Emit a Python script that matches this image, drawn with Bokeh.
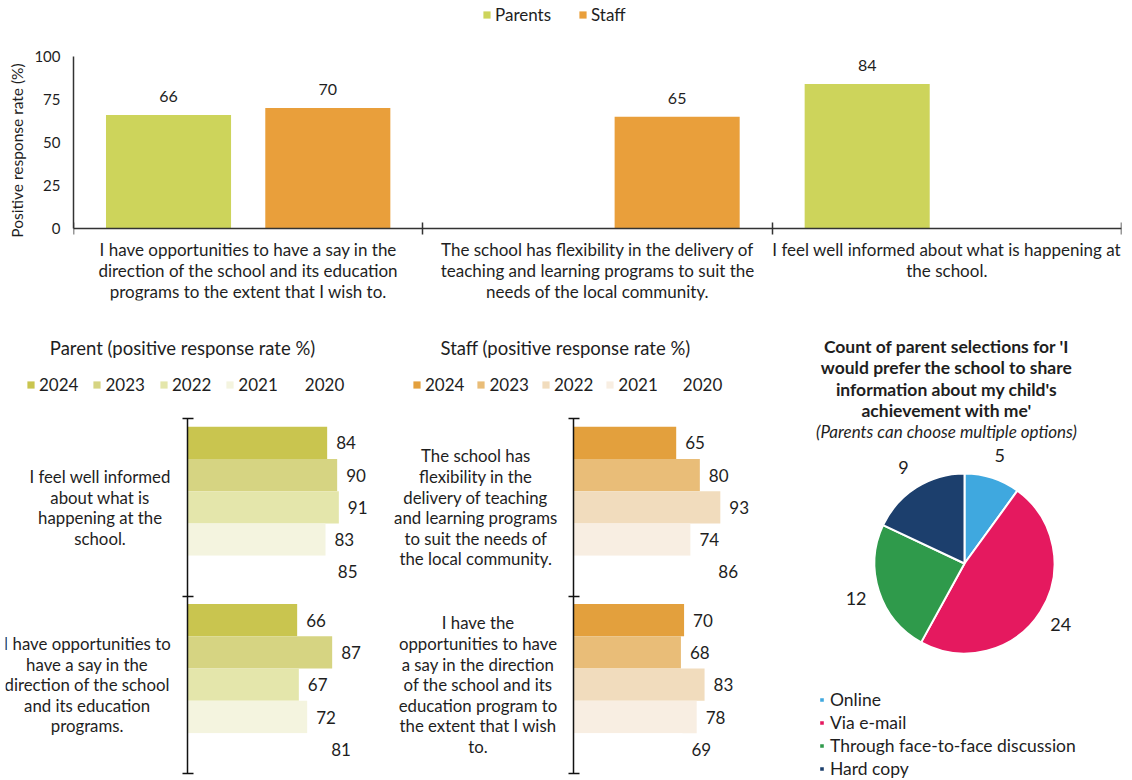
import numpy as np
from bokeh.plotting import figure
from bokeh.models import (ColumnDataSource, Range1d, FixedTicker, Legend, LegendItem, Label)
from bokeh.layouts import column, row
from bokeh.embed import file_html
from bokeh.resources import INLINE
from bokeh.core.properties import value

FONT = "Lato"
TXT = "#1e1e1e"

# ---------------- data ----------------
top_categories = [
    "I have opportunities to have a say in the\ndirection of the school and its education\nprograms to the extent that I wish to.",
    "The school has flexibility in the delivery of\nteaching and learning programs to suit the\nneeds of the local community.",
    "I feel well informed about what is happening at\nthe school.",
]
top_parents = [66, None, 84]
top_staff = [70, 65, None]

years = ["2024", "2023", "2022", "2021", "2020"]

parent_questions = [
    "I feel well informed\nabout what is\nhappening at the\nschool.",
    "I have opportunities to\nhave a say in the\ndirection of the school\nand its education\nprograms.",
]
parent_2024 = [84, 66]
parent_2023 = [90, 87]
parent_2022 = [91, 67]
parent_2021 = [83, 72]
parent_2020 = [85, 81]

staff_questions = [
    "The school has\nflexibility in the\ndelivery of teaching\nand learning programs\nto suit the needs of\nthe local community.",
    "I have the\nopportunities to have\na say in the direction\nof the school and its\neducation program to\nthe extent that I wish\nto.",
]
staff_2024 = [65, 70]
staff_2023 = [80, 68]
staff_2022 = [93, 83]
staff_2021 = [74, 78]
staff_2020 = [86, 69]

pie_title = ["Count of parent selections for 'I",
             "would prefer the school to share",
             "information about my child's",
             "achievement with me'"]
pie_subtitle = "(Parents can choose multiple options)"
pie_labels = ["Online", "Via e-mail", "Through face-to-face discussion", "Hard copy"]
pie_counts = [5, 24, 12, 9]

# ---------------- styles ----------------
C_PAR = "#cdd45b"
C_STAFF = "#e99f3b"
PAR_COLORS = ["#c9c54f", "#d6d482", "#e4e6ab", "#f4f4df", "#ffffff"]
STAFF_COLORS = ["#e3a03d", "#e9bd78", "#f1dcbd", "#f8eee2", "#ffffff"]
PIE_COLORS = ["#3fa8df", "#e5195f", "#2f9a4b", "#1c3f6d"]


def base(fig):
    fig.outline_line_color = None
    fig.grid.visible = False
    fig.background_fill_color = "white"
    fig.border_fill_color = "white"
    fig.frame_align = False
    return fig


# ---------------- top chart ----------------
# frame spans the whole panel height; the axes are bounded/fixed at the data origin
top = base(figure(width=1132, height=310, x_range=Range1d(-0.5, 2.5),
                  y_range=Range1d(-41.86, 132.56), title=None,
                  output_backend="svg", toolbar_location=None,
                  min_border_left=73, min_border_right=11, min_border_top=0, min_border_bottom=10))

idx = np.arange(len(top_categories))
OFF, BW = 0.228, 0.358
px = [float(i) - OFF for i, v in zip(idx, top_parents) if v is not None]
pv = [v for v in top_parents if v is not None]
sx = [float(i) + OFF for i, v in zip(idx, top_staff) if v is not None]
sv = [v for v in top_staff if v is not None]

r_par = top.vbar(x=px, top=pv, width=BW, fill_color=C_PAR, line_color=None)
r_staff = top.vbar(x=sx, top=sv, width=BW, fill_color=C_STAFF, line_color=None)
top.text(x=px + sx, y=pv + sv, text=[str(v) for v in pv + sv], text_align="center",
         text_baseline="bottom", y_offset=-13, text_font=value(FONT), text_font_size="16px",
         text_color=TXT)
# category labels under the axis
top.text(x=idx.astype(float), y=[0.0] * len(idx), y_offset=10, text=top_categories,
         text_align="center", text_baseline="top", text_font=value(FONT),
         text_font_size="17px", text_line_height=1.0, text_color=TXT)

xa = top.xaxis[0]
xa.fixed_location = 0
xa.ticker = FixedTicker(ticks=[], minor_ticks=[-0.5, 0.5, 1.5, 2.5])
xa.major_tick_in = 0
xa.major_tick_out = 0
xa.minor_tick_in = 6
xa.minor_tick_out = 6
xa.minor_tick_line_color = "#333333"
xa.minor_tick_line_width = 1.5
xa.axis_line_color = "#333333"
xa.axis_line_width = 1.5

ya = top.yaxis[0]
ya.ticker = FixedTicker(ticks=[0, 25, 50, 75, 100])
ya.bounds = (0, 100)
ya.major_tick_in = 0
ya.major_tick_out = 0
ya.minor_tick_in = 0
ya.minor_tick_out = 0
ya.axis_line_color = "#333333"
ya.axis_line_width = 1.5
ya.major_label_standoff = 13
ya.major_label_text_font = FONT
ya.major_label_text_font_size = "15px"
ya.major_label_text_color = TXT
ya.axis_label = "Positive response rate (%)"
ya.axis_label_text_font = FONT
ya.axis_label_text_font_size = "15.5px"
ya.axis_label_text_font_style = "normal"
ya.axis_label_text_color = TXT
ya.axis_label_standoff = 5

top_leg = Legend(items=[LegendItem(label="Parents", renderers=[r_par]),
                        LegendItem(label="Staff", renderers=[r_staff])],
                 orientation="horizontal", location=(409, 275), padding=0, margin=0,
                 spacing=27, label_standoff=4, glyph_width=9, glyph_height=9, label_height=20,
                 border_line_color=None, background_fill_alpha=0,
                 label_text_font=FONT, label_text_font_size="17px", label_text_color=TXT)
top.add_layout(top_leg)


# ---------------- year bar charts ----------------
def year_chart(title, questions, series, colors, xr, title_x, legend_x, legend_spacing):
    # frame covers the whole panel; the y axis is drawn at x = 0 and bounded to the categories
    f = base(figure(width=380, height=470, x_range=Range1d(*xr), y_range=Range1d(2.04, -0.61),
                    title=None, output_backend="svg", toolbar_location=None,
                    x_axis_location=None, min_border_left=5, min_border_right=0,
                    min_border_top=0, min_border_bottom=0))
    H = 0.182
    qi = np.arange(len(questions))
    items = []
    for j, (yr, vals) in enumerate(zip(years, series)):
        ys = qi + 0.5 + (j - 2) * H
        r = f.hbar(y=ys, left=0, right=vals, height=H, fill_color=colors[j], line_color=None)
        f.text(x=vals, y=ys, text=[str(v) for v in vals], x_offset=9, text_align="left",
               text_baseline="middle", text_font=value(FONT), text_font_size="17px",
               text_color=TXT)
        items.append(LegendItem(label=yr, renderers=[r]))
    a = f.yaxis[0]
    a.fixed_location = 0
    a.bounds = (0, len(questions))
    a.ticker = FixedTicker(ticks=[], minor_ticks=list(range(len(questions) + 1)))
    a.major_tick_in = 0
    a.major_tick_out = 0
    a.major_label_standoff = 0
    a.minor_tick_in = 6
    a.minor_tick_out = 5
    a.axis_line_color = "#111111"
    a.minor_tick_line_color = "#111111"
    a.axis_line_width = 1.5
    a.minor_tick_line_width = 1.5
    # category labels: block right-aligned next to the axis, lines centred
    f.text(x=[0.0] * len(questions), y=qi + 0.5, x_offset=-16.5, text=questions,
           anchor=value("center_right"), text_align="center", text_baseline="middle",
           text_font=value(FONT), text_font_size="16.8px", text_color=TXT,
           text_line_height=0.98)
    f.add_layout(Label(x=title_x, y=433, x_units="screen", y_units="screen", text=title,
                       text_align="center", text_baseline="middle", text_font=FONT,
                       text_font_size="18.5px", text_color=TXT))
    leg = Legend(items=items, orientation="horizontal", location=(legend_x, 385), padding=0,
                 margin=0, spacing=legend_spacing, label_standoff=4, glyph_width=9,
                 glyph_height=9, label_height=20, border_line_color=None,
                 background_fill_alpha=0, label_text_font=FONT, label_text_font_size="17px",
                 label_text_color=TXT)
    f.add_layout(leg)
    return f


pf = year_chart("Parent (positive response rate %)", parent_questions,
                [parent_2024, parent_2023, parent_2022, parent_2021, parent_2020],
                PAR_COLORS, (-109, 116), 177, 21, 14)
sf = year_chart("Staff (positive response rate %)", staff_questions,
                [staff_2024, staff_2023, staff_2022, staff_2021, staff_2020],
                STAFF_COLORS, (-119.5, 118.5), 180, 27, 12)

# ---------------- pie ----------------
pie = base(figure(width=372, height=470, x_range=Range1d(0, 372), y_range=Range1d(0, 470),
                  title=None, output_backend="svg", toolbar_location=None,
                  x_axis_location=None, y_axis_location=None, min_border=0))
counts = np.array(pie_counts, dtype=float)
frac = counts / counts.sum()
ends = np.cumsum(frac)
starts = ends - frac
CX, CY, R = 204, 217, 90
src = ColumnDataSource(dict(label=pie_labels, count=pie_counts,
                            start=np.pi / 2 - 2 * np.pi * starts,
                            end=np.pi / 2 - 2 * np.pi * ends, color=PIE_COLORS))
rw = pie.wedge(x=CX, y=CY, radius=R, start_angle="start", end_angle="end", direction="clock",
               fill_color="color", line_color="white", line_width=2, source=src)
mid = (starts + ends) * np.pi
pie.text(x=CX + 114 * np.sin(mid), y=CY + 114 * np.cos(mid), text=[str(c) for c in pie_counts],
         text_align="center", text_baseline="middle", text_font=value(FONT),
         text_font_size="18px", text_color=TXT)
pie.text(x=[186] * len(pie_title), y=[434 - 21.3 * i for i in range(len(pie_title))],
         text=pie_title, text_align="center", text_baseline="middle", text_font=value(FONT),
         text_font_size="17.5px", text_font_style="bold", text_color=TXT)
pie.text(x=[186], y=[349], text=[pie_subtitle], text_align="center", text_baseline="middle",
         text_font=value(FONT), text_font_size="17px", text_font_style="italic", text_color=TXT)
pleg = Legend(items=[LegendItem(label=l, renderers=[rw], index=i) for i, l in enumerate(pie_labels)],
              orientation="vertical", location=(58, 1), padding=0, margin=0, spacing=2,
              label_standoff=5, glyph_width=7, glyph_height=7, label_height=20,
              border_line_color=None, background_fill_alpha=0,
              label_text_font=FONT, label_text_font_size="17.5px", label_text_color=TXT)
pie.add_layout(pleg)

layout = column(top, row(pf, sf, pie))
open("out.html", "w").write(file_html(layout, INLINE))
